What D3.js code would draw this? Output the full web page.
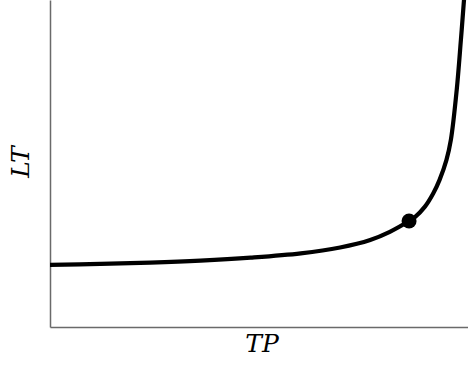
<!DOCTYPE html>
<html>
<head>
<meta charset="utf-8">
<script src="https://cdn.jsdelivr.net/npm/d3@7/dist/d3.min.js"></script>
<style>
  html, body { margin: 0; padding: 0; background: #fff; }
  svg { display: block; }
  .lbl { font-family: "DejaVu Serif", serif; font-style: italic; font-size: 25px; fill: #000; }
</style>
</head>
<body>
<svg id="chart" width="468" height="368"></svg>
<script>
// Throughput (TP) vs lead time (LT), arbitrary units 0..100
const tpValues = [0, 12, 24, 36, 48, 60, 69.4, 76.6, 81.3, 85.9, 87.3, 89.7, 91.7, 93.2, 94.85, 95.9, 97.3, 98.3, 99.04, 99.25];
const ltValues = [19.0, 19.3, 19.7, 20.3, 21.2, 22.5, 24.3, 26.6, 29.1, 32.4, 33.6, 36.8, 40.9, 45.0, 51.1, 57.2, 72.5, 87.8, 100, 104.6];
const markerTP = [85.9];
const markerLT = [32.4];
const xLabel = "TP";
const yLabel = "LT";

const W = 468, H = 368;
const margin = { left: 50, right: 0, top: 0, bottom: 41 };
const svg = d3.select("#chart");

const x = d3.scaleLinear().domain([0, 100]).range([margin.left, W - margin.right]);
const y = d3.scaleLinear().domain([0, 100]).range([H - margin.bottom, margin.top]);

const data = tpValues.map((t, i) => ({ tp: t, lt: ltValues[i] }));

svg.append("defs").append("clipPath").attr("id", "clip")
  .append("rect").attr("x", margin.left).attr("y", 0)
  .attr("width", W - margin.left).attr("height", H - margin.bottom);

// axes (no ticks)
const xAxis = d3.axisBottom(x).tickValues([]).tickSizeOuter(0);
const yAxis = d3.axisLeft(y).tickValues([]).tickSizeOuter(0);
svg.append("g").attr("transform", `translate(0,${y(0)})`).call(xAxis)
  .select(".domain").attr("stroke", "#6a6a6a").attr("stroke-width", 1.5);
svg.append("g").attr("transform", `translate(${x(0)},0)`).call(yAxis)
  .select(".domain").attr("stroke", "#6a6a6a").attr("stroke-width", 1.5);

const line = d3.line().x(d => x(d.tp)).y(d => y(d.lt)).curve(d3.curveCatmullRom.alpha(0.5));
svg.append("path").datum(data)
  .attr("clip-path", "url(#clip)")
  .attr("d", line)
  .attr("fill", "none").attr("stroke", "#000").attr("stroke-width", 4.2)
  .attr("stroke-linecap", "round");

svg.selectAll("circle.marker").data(markerTP.map((t, i) => ({ tp: t, lt: markerLT[i] })))
  .enter().append("circle").attr("class", "marker")
  .attr("cx", d => x(d.tp)).attr("cy", d => y(d.lt)).attr("r", 7.5).attr("fill", "#000");

svg.append("text").text(xLabel).attr("class", "lbl")
  .attr("x", 262).attr("y", 352)
  .attr("text-anchor", "middle");

svg.append("text").text(yLabel).attr("class", "lbl")
  .attr("transform", "translate(29,162) rotate(-90)")
  .attr("text-anchor", "middle");
</script>
</body>
</html>
